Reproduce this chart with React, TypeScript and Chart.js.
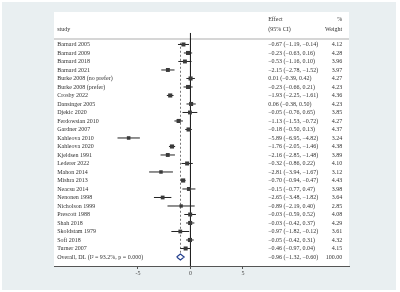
import React, { useEffect, useRef } from "react";
import { Chart, registerables } from "chart.js";

Chart.register(...registerables);

const studies = [
  "Barnard 2005", "Barnard 2009", "Barnard 2018", "Barnard 2021",
  "Burke 2008 (no prefer)", "Burke 2008 (prefer)", "Crosby 2022", "Dansinger 2005",
  "Djekic 2020", "Ferdowsian 2010", "Gardner 2007", "Kahleova 2010",
  "Kahleova 2020", "Kjeldsen 1991", "Lederer 2022", "Mahon 2014",
  "Mishra 2013", "Neacsu 2014", "Nenonen 1998", "Nicholson 1999",
  "Prescott 1988", "Shah 2018", "Skoldstam 1979", "Sofi 2018", "Turner 2007",
];
const effects = [-0.67, -0.23, -0.53, -2.15, 0.01, -0.23, -1.93, 0.06, -0.05, -1.13, -0.18, -5.89, -1.76, -2.16, -0.32, -2.81, -0.70, -0.15, -2.65, -0.89, -0.03, -0.03, -0.97, -0.05, -0.46];
const lowers = [-1.19, -0.63, -1.16, -2.78, -0.39, -0.66, -2.25, -0.38, -0.76, -1.53, -0.50, -6.95, -2.05, -2.85, -0.86, -3.94, -0.94, -0.77, -3.48, -2.19, -0.59, -0.42, -1.82, -0.42, -0.97];
const uppers = [-0.14, 0.16, 0.10, -1.52, 0.42, 0.21, -1.61, 0.50, 0.65, -0.72, 0.13, -4.82, -1.46, -1.48, 0.22, -1.67, -0.47, 0.47, -1.82, 0.40, 0.52, 0.37, -0.12, 0.31, 0.04];
const weights = [4.12, 4.28, 3.96, 3.97, 4.27, 4.23, 4.36, 4.23, 3.85, 4.27, 4.37, 3.24, 4.38, 3.89, 4.10, 3.12, 4.43, 3.98, 3.64, 2.85, 4.08, 4.29, 3.61, 4.32, 4.15];

const overallLabel = "Overall, DL (I\u00B2 = 93.2%, p = 0.000)";
const overallEffect = -0.96;
const overallLower = -1.32;
const overallUpper = -0.6;
const overallWeight = 100.0;

const xTickValues = [-5, 0, 5];
const studyHeader = "study";
const effectHeader = ["Effect", "(95% CI)"];
const weightHeader = ["%", "Weight"];

const FONT = "'Liberation Serif', 'Times New Roman', serif";
const X_MIN = -13;
const X_MAX = 15.1;
const Y_MIN = -3.82;
const Y_MAX = 26.06;
const STUDY_COL = -12.7;
const EFFECT_COL = 7.4;
const WEIGHT_COL = 14.45;

const fmt = (v: number) => v.toFixed(2).replace("-", "\u2212");
const effectText = (e: number, l: number, u: number) => `${fmt(e)} (${fmt(l)}, ${fmt(u)})`;

export default function App() {
  const ref = useRef<HTMLCanvasElement | null>(null);

  useEffect(() => {
    if (!ref.current) return;
    const n = studies.length;
    const overallRow = n;

    const ciSets = studies.map((_, i) => ({
      type: "scatter" as const,
      data: [
        { x: lowers[i], y: i },
        { x: uppers[i], y: i },
      ],
      showLine: true,
      borderColor: "#222",
      borderWidth: 1,
      pointRadius: 0,
      order: 2,
    }));

    const textPlugin = {
      id: "forestText",
      beforeDraw(chart: any) {
        const { ctx, chartArea } = chart;
        ctx.save();
        ctx.fillStyle = "#ffffff";
        ctx.fillRect(0, 0, chart.width, chart.height);
        ctx.fillStyle = "#e9eff1";
        ctx.fillRect(2, 2, chart.width - 6, chart.height - 4);
        ctx.fillStyle = "#ffffff";
        ctx.fillRect(chartArea.left, chartArea.top, chartArea.right - chartArea.left, chartArea.bottom - chartArea.top);
        ctx.restore();
      },
      afterDatasetsDraw(chart: any) {
        const { ctx } = chart;
        const xs = chart.scales.x;
        const ys = chart.scales.y;
        ctx.save();
        ctx.font = `6px ${FONT}`;
        ctx.fillStyle = "#333";
        ctx.textBaseline = "middle";
        const sx = xs.getPixelForValue(STUDY_COL);
        const ex = xs.getPixelForValue(EFFECT_COL);
        const wx = xs.getPixelForValue(WEIGHT_COL);
        // headers
        ctx.textAlign = "left";
        ctx.fillText(studyHeader, sx, ys.getPixelForValue(-1.82));
        ctx.fillText(effectHeader[0], ex, ys.getPixelForValue(-3.0));
        ctx.fillText(effectHeader[1], ex, ys.getPixelForValue(-1.82));
        ctx.textAlign = "right";
        ctx.fillText(weightHeader[0], wx, ys.getPixelForValue(-3.0));
        ctx.fillText(weightHeader[1], wx, ys.getPixelForValue(-1.82));
        // rows
        studies.forEach((s, i) => {
          const y = ys.getPixelForValue(i);
          ctx.textAlign = "left";
          ctx.fillText(s, sx, y);
          ctx.fillText(effectText(effects[i], lowers[i], uppers[i]), ex, y);
          ctx.textAlign = "right";
          ctx.fillText(weights[i].toFixed(2), wx, y);
        });
        const oy = ys.getPixelForValue(overallRow);
        ctx.textAlign = "left";
        ctx.fillText(overallLabel, sx, oy);
        ctx.fillText(effectText(overallEffect, overallLower, overallUpper), ex, oy);
        ctx.textAlign = "right";
        ctx.fillText(overallWeight.toFixed(2), wx, oy);
        ctx.restore();
      },
    };

    const chart = new Chart(ref.current, {
      type: "scatter",
      data: {
        datasets: [
          {
            type: "scatter",
            data: effects.map((e, i) => ({ x: e, y: i })),
            pointStyle: "rect",
            pointRadius: weights.map((w) => 2.9 * Math.sqrt(w / 4.3)),
            backgroundColor: "#3a3a3a",
            borderWidth: 0,
            order: 1,
          },
          ...ciSets,
          {
            type: "scatter",
            data: [
              { x: overallLower, y: overallRow },
              { x: overallEffect, y: overallRow - 0.36 },
              { x: overallUpper, y: overallRow },
              { x: overallEffect, y: overallRow + 0.36 },
              { x: overallLower, y: overallRow },
            ],
            showLine: true,
            borderColor: "#24408e",
            borderWidth: 1.2,
            pointRadius: 0,
            order: 1,
          },
          {
            type: "scatter",
            data: [
              { x: 0, y: -1.35 },
              { x: 0, y: Y_MAX },
            ],
            showLine: true,
            borderColor: "#222",
            borderWidth: 1,
            pointRadius: 0,
            order: 3,
          },
          {
            type: "scatter",
            data: [
              { x: overallEffect, y: -0.2 },
              { x: overallEffect, y: overallRow - 0.5 },
            ],
            showLine: true,
            borderColor: "#555",
            borderWidth: 0.8,
            borderDash: [2, 2],
            pointRadius: 0,
            order: 3,
          },
          {
            type: "scatter",
            data: [
              { x: X_MIN, y: -0.65 },
              { x: X_MAX, y: -0.65 },
            ],
            showLine: true,
            borderColor: "#d6d6d6",
            borderWidth: 2,
            pointRadius: 0,
            order: 4,
          },
        ],
      },
      options: {
        animation: false,
        responsive: false,
        maintainAspectRatio: false,
        layout: { padding: { left: 54, top: 12, right: 51, bottom: 0 } },
        plugins: { legend: { display: false }, tooltip: { enabled: false } },
        scales: {
          x: {
            type: "linear",
            min: X_MIN,
            max: X_MAX,
            afterBuildTicks: (s: any) => {
              s.ticks = xTickValues.map((v) => ({ value: v }));
            },
            afterFit: (s: any) => {
              s.height = 26;
            },
            grid: { drawOnChartArea: false, drawTicks: true, tickLength: 3, color: "#555" },
            border: { color: "#555", width: 1 },
            ticks: {
              font: { family: FONT, size: 6 },
              color: "#444",
              padding: 1,
              maxRotation: 0,
              autoSkip: false,
              callback: (v: any) => String(v),
            },
          },
          y: {
            type: "linear",
            reverse: true,
            min: Y_MIN,
            max: Y_MAX,
            display: false,
          },
        },
      },
      plugins: [textPlugin],
    } as any);

    return () => chart.destroy();
  }, []);

  return (
    <div style={{ position: "absolute", left: 0, top: 0, width: 400, height: 292 }}>
      <canvas ref={ref} width={400} height={292} />
    </div>
  );
}
